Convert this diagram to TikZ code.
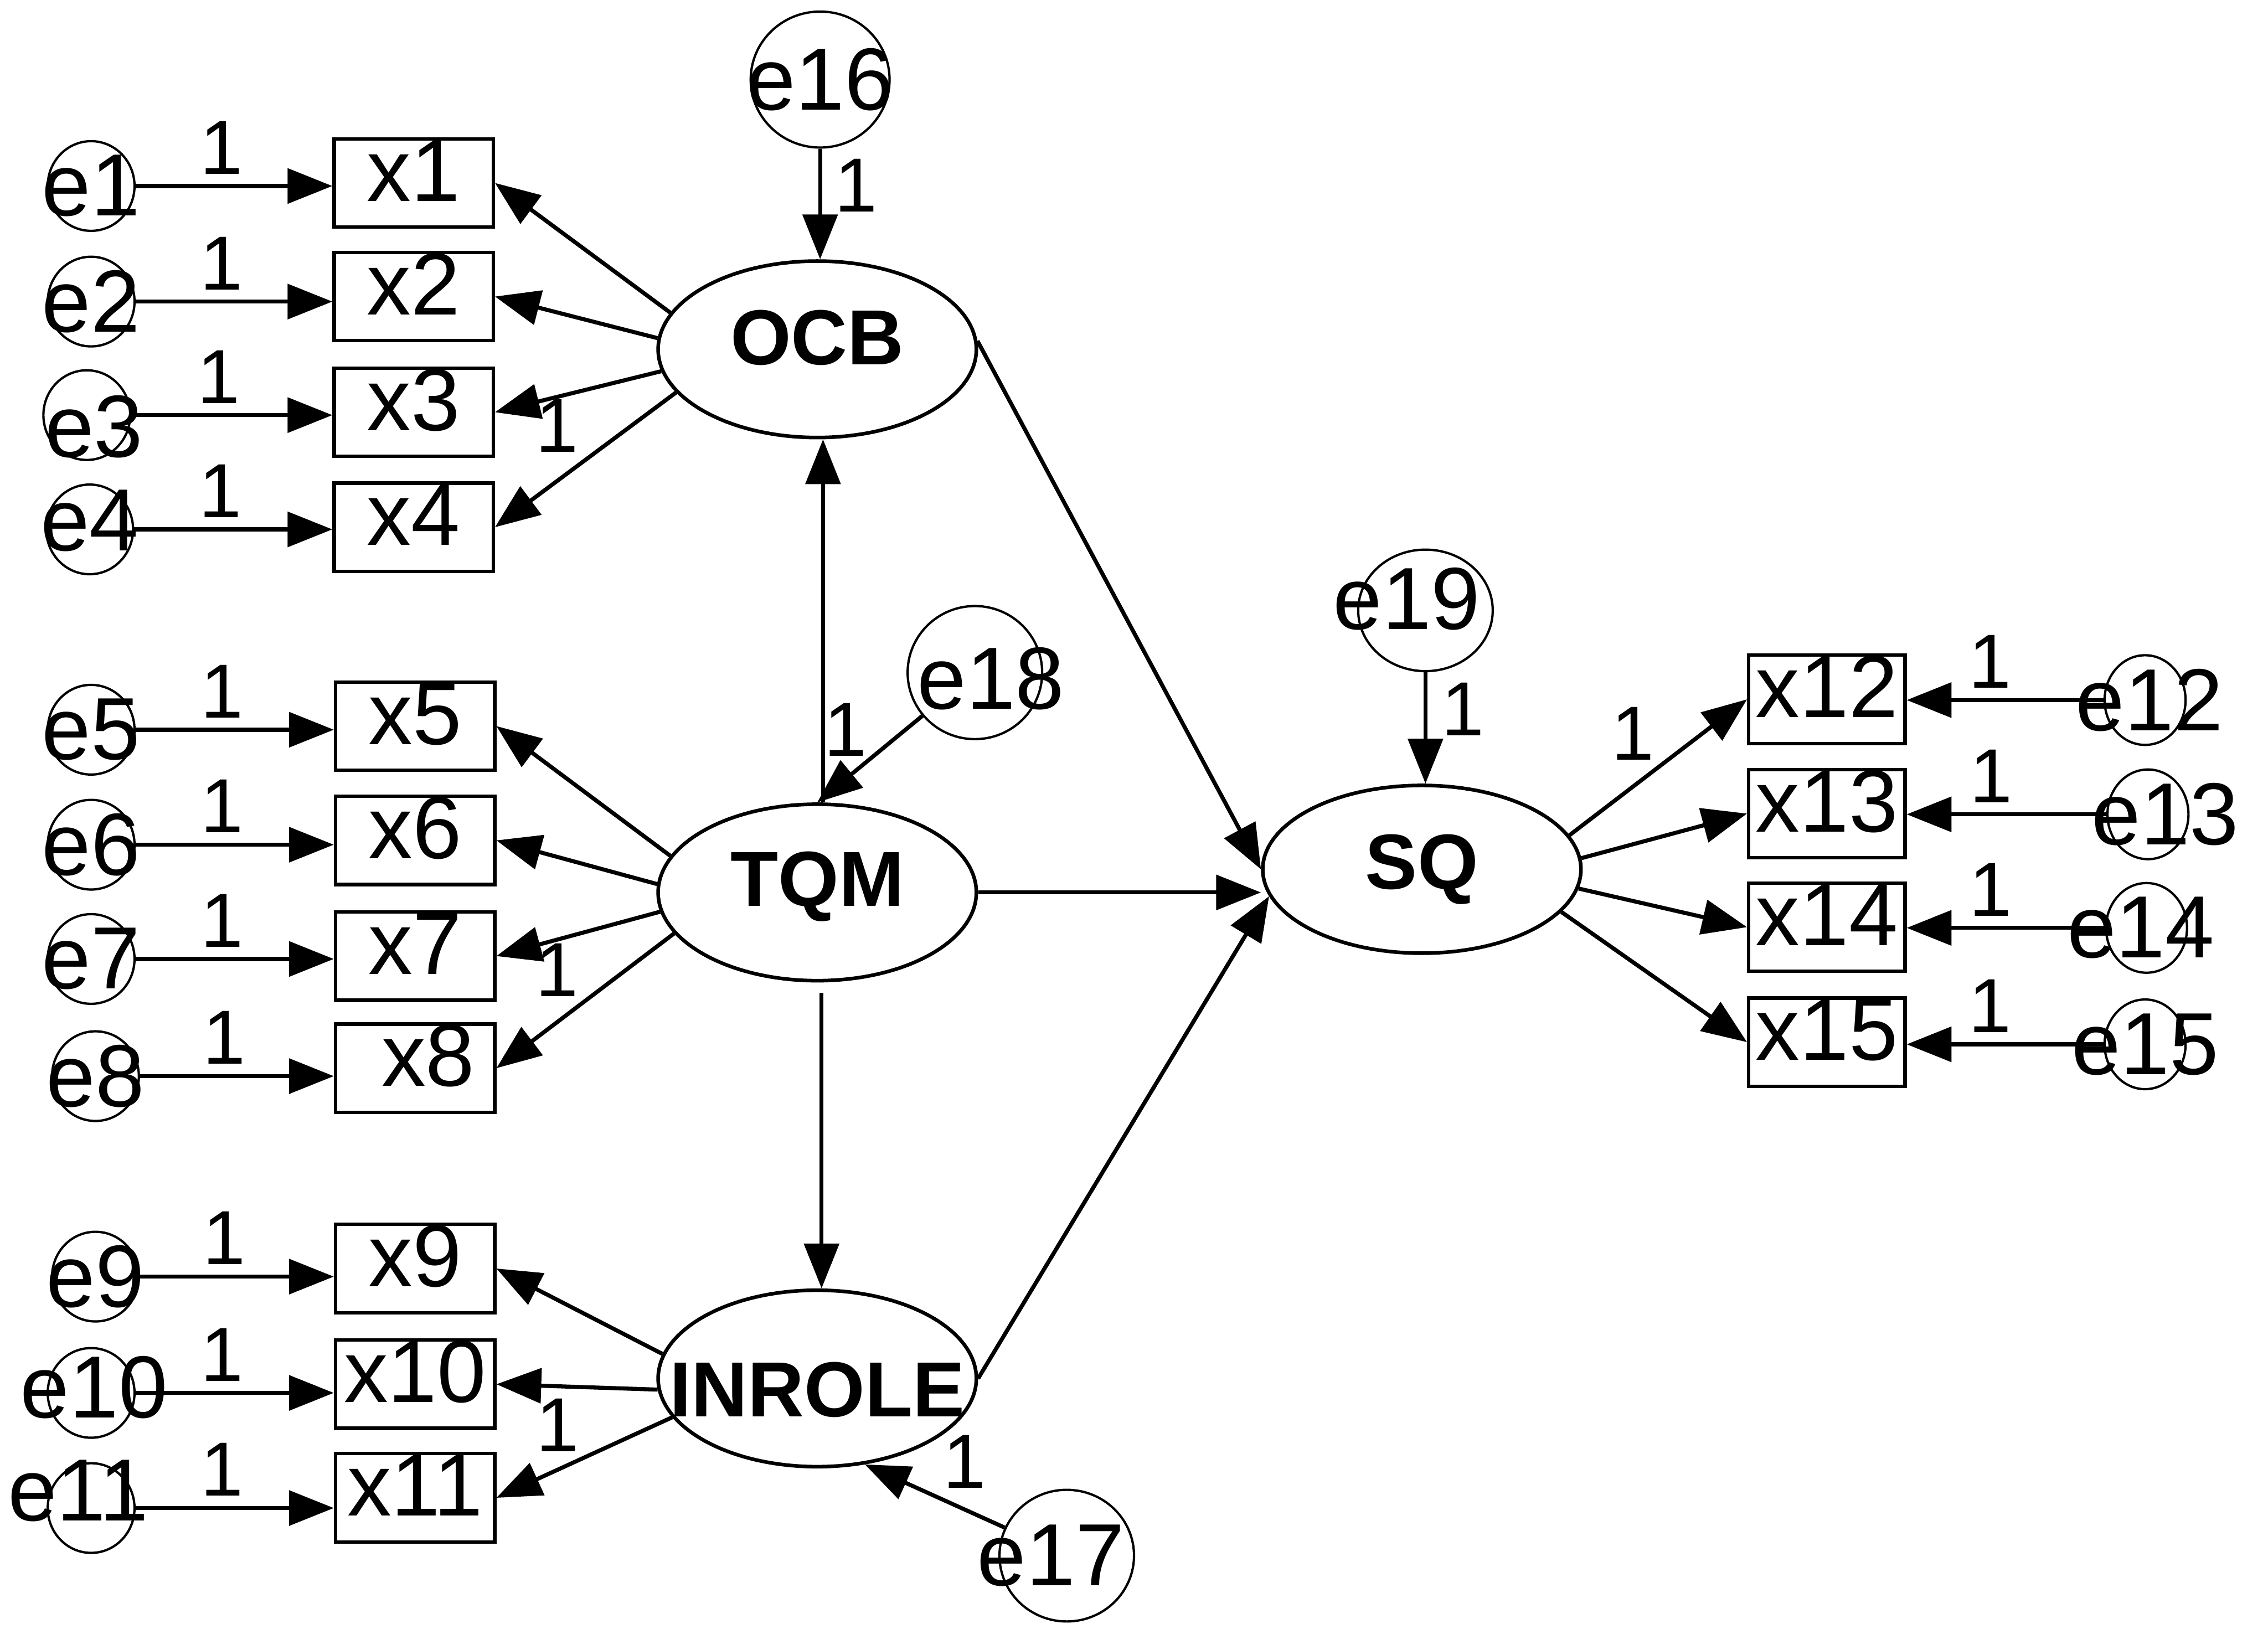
\documentclass[tikz,border=0pt]{standalone}
\usepackage{fontspec}
\setmainfont{Liberation Sans}
\usetikzlibrary{shapes.geometric,arrows.meta}
\begin{document}
\begin{tikzpicture}[x=1pt,y=-1pt,
  obs/.style={draw,line width=2.4pt,rectangle,minimum width=110pt,inner sep=0pt,
              text height=43pt,text depth=18pt,font=\fontsize{61}{61}\selectfont},
  obsr/.style={obs,minimum width=108pt},
  lat/.style={draw,ellipse,line width=2.5pt,minimum width=220pt,minimum height=122pt,inner sep=0pt},
  err/.style={draw,ellipse,line width=1.6pt,minimum width=60pt,minimum height=62pt,inner sep=0pt},
  errr/.style={err,minimum width=56pt,minimum height=62pt},
  errb/.style={err,minimum width=93pt,minimum height=92pt},
  etxt/.style={font=\fontsize{61}{61}\selectfont,inner sep=0pt},
  ltxt/.style={font=\bfseries\fontsize{54}{54}\selectfont,inner sep=0pt},
  lab/.style={font=\fontsize{53}{53}\selectfont,inner sep=0pt},
  arr/.style={line width=2.8pt,-{Triangle[length=31pt,width=24pt]}}
]
\useasboundingbox (0,0) rectangle (1568,1126);

% latent variables
\node[lat,label={[ltxt,yshift=8pt]center:OCB}] (OCB) at (565,241.5) {};
\node[lat,label={[ltxt,yshift=4pt]center:TQM}] (TQM) at (565,617) {};
\node[lat,label={[ltxt,yshift=-8pt]center:INROLE}] (INROLE) at (565,953) {};
\node[lat,minimum height=116pt,label={[ltxt]center:SQ}] (SQ) at (983,601) {};

% observed, left
\node[obs] (x1) at (286,126.5) {x1};
\node[obs] (x2) at (286,205) {x2};
\node[obs] (x3) at (286,285) {x3};
\node[obs] (x4) at (286,364.5) {x4};
\node[obs] (x5) at (287,502) {x5};
\node[obs] (x6) at (287,581) {x6};
\node[obs] (x7) at (287,661) {x7};
\node[obs] (x8) at (287,738.5) {\hspace*{18pt}x8};
\node[obs] (x9) at (287,877) {x9};
\node[obs] (x10) at (287,957) {x10};
\node[obs] (x11) at (287,1035.5) {x11};
% observed, right
\node[obsr] (x12) at (1263,483.5) {x12};
\node[obsr] (x13) at (1263,562.5) {x13};
\node[obsr] (x14) at (1263,641) {x14};
\node[obsr] (x15) at (1263,720.5) {x15};

% error terms, left
\node[err,label={[etxt]center:e1}] (e1) at (63,128.6) {};
\node[err,label={[etxt]center:e2}] (e2) at (63,208.5) {};
\node[err,label={[etxt,xshift=5pt,yshift=-8pt]center:e3}] (e3) at (60,287) {};
\node[err,label={[etxt,yshift=6pt]center:e4}] (e4) at (62,366) {};
\node[err,label={[etxt]center:e5}] (e5) at (63,504.5) {};
\node[err,label={[etxt]center:e6}] (e6) at (63,584) {};
\node[err,label={[etxt]center:e7}] (e7) at (63,663) {};
\node[err,label={[etxt]center:e8}] (e8) at (66,744) {};
\node[err,label={[etxt]center:e9}] (e9) at (66,882.6) {};
\node[err,label={[etxt,xshift=2pt,yshift=4pt]center:e10}] (e10) at (63,963) {};
\node[err,label={[etxt,xshift=-9pt,yshift=12pt]center:e11}] (e11) at (63,1042.6) {};
% error terms, right
\node[errr,label={[etxt,xshift=3pt]center:e12}] (e12) at (1483,484) {};
\node[errr,label={[etxt,xshift=12pt]center:e13}] (e13) at (1485,563) {};
\node[errr,label={[etxt,xshift=-4pt]center:e14}] (e14) at (1484,641.5) {};
\node[errr,label={[etxt]center:e15}] (e15) at (1483,722) {};
% disturbances
\node[errb,minimum width=96pt,minimum height=94pt,label={[etxt]center:e16}] (e16) at (567,55) {};
\node[errb,label={[etxt,xshift=11pt,yshift=-4pt]center:e18}] (e18) at (674,465) {};
\node[errb,minimum height=84pt,label={[etxt,xshift=-13pt,yshift=8pt]center:e19}] (e19) at (985.5,422) {};
\node[errb,minimum height=91pt,label={[etxt,xshift=-11pt]center:e17}] (e17) at (737.5,1075.5) {};

% error -> indicator (left)
\foreach \e/\x in {e1/x1,e2/x2,e3/x3,e4/x4,e5/x5,e6/x6,e7/x7,e8/x8,e9/x9,e10/x10,e11/x11}{
  \draw[arr] (\e) -- (\e -| \x.west) node[lab,pos=0.435,yshift=26.5pt] {1};
}
% error -> indicator (right)
\foreach \e/\x in {e12/x12,e13/x13,e14/x14,e15/x15}{
  \draw[arr] (\e) -- (\e -| \x.east) node[lab,pos=0.576,yshift=26.5pt] {1};
}

% loadings
\draw[arr] (OCB.166) -- (x1.east);
\draw[arr] (OCB.176) -- (x2.east);
\draw[arr] (OCB.188) -- (x3.east) node[lab,pos=0.625,yshift=-20pt] {1};
\draw[arr] (OCB.197) -- (x4.east);
\draw[arr] (TQM.166) -- (x5.east);
\draw[arr] (TQM.177) -- (x6.east);
\draw[arr] (TQM.187) -- (x7.east) node[lab,pos=0.63,yshift=-21pt] {1};
\draw[arr] (TQM.196) -- (x8.east);
\draw[arr] (INROLE.171) -- (x9.east);
\draw[arr] (INROLE.184) -- (x10.east) node[lab,pos=0.62,yshift=-27pt] {1};
\draw[arr] (INROLE.195) -- (x11.east);
\draw[arr] (SQ.13) -- (x12.west) node[lab,pos=0.356,yshift=37pt] {1};
\draw[arr] (SQ.4) -- (x13.west);
\draw[arr] (SQ.353) -- (x14.west);
\draw[arr] (SQ.343) -- (x15.west);

% disturbances -> latents
\draw[arr] (e16.south) -- (e16.south |- OCB.north) node[lab,pos=0.33,xshift=25pt] {1};
\draw[arr] (e19.south) -- (e19.south |- SQ.north) node[lab,pos=0.33,xshift=26pt] {1};
\draw[arr] (e18) -- (TQM.north) node[lab,pos=0.73,yshift=34pt] {1};
\draw[arr] (e17) -- (INROLE.299) node[lab,pos=0.287,yshift=33pt] {1};

% structural paths
\draw[arr] ([xshift=4pt]TQM.north) -- ([xshift=4pt]OCB.south);
\draw[arr,shorten <=7pt] ([xshift=3pt]TQM.south) -- ([xshift=3pt]INROLE.north);
\draw[arr] (OCB.3) -- (SQ.west);
\draw[arr] (TQM.east) -- (TQM.east -| SQ.west);
\draw[arr] (INROLE.east) -- (SQ.190);
\end{tikzpicture}
\end{document}
